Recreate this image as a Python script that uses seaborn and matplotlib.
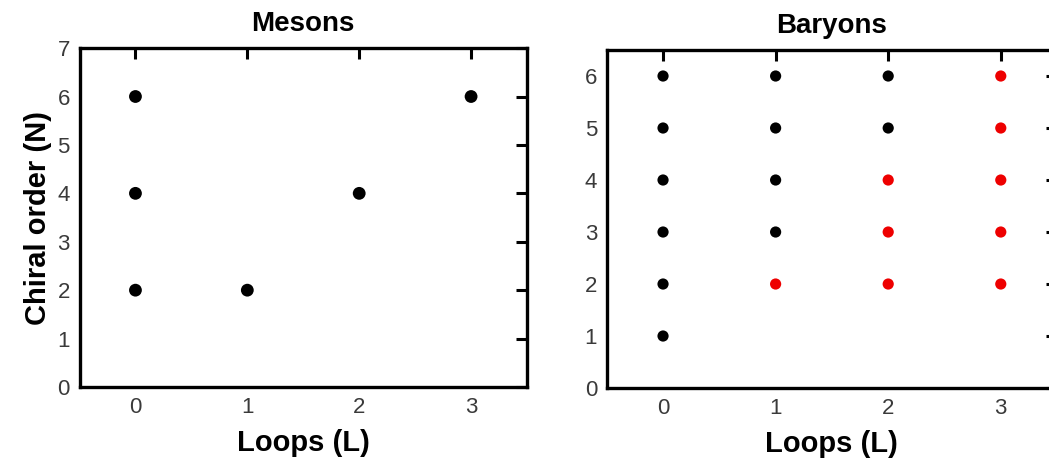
import matplotlib
matplotlib.use("Agg")
import matplotlib.pyplot as plt
import seaborn as sns
import pandas as pd

# Mesons: (loops, chiral order)
meson_L = [0, 0, 0, 1, 2, 3]
meson_N = [2, 4, 6, 2, 4, 6]

# Baryons, black and red points
baryon_black_L = [0, 0, 0, 0, 0, 0, 1, 1, 1, 1, 2, 2]
baryon_black_N = [1, 2, 3, 4, 5, 6, 3, 4, 5, 6, 5, 6]
baryon_red_L = [1, 2, 2, 2, 3, 3, 3, 3, 3]
baryon_red_N = [2, 2, 3, 4, 2, 3, 4, 5, 6]

sns.set_style("white")
plt.rcParams['font.family'] = ['Liberation Sans', 'DejaVu Sans']

mesons = pd.DataFrame({"L": meson_L, "N": meson_N})
baryons = pd.DataFrame({
    "L": baryon_black_L + baryon_red_L,
    "N": baryon_black_N + baryon_red_N,
    "kind": ["black"] * len(baryon_black_L) + ["red"] * len(baryon_red_L),
})

fig = plt.figure(figsize=(10.49, 4.58), dpi=100)
ax1 = fig.add_axes([0.0758, 0.155, 0.4266, 0.740])
ax2 = fig.add_axes([0.5784, 0.1528, 0.4293, 0.738])

sns.scatterplot(data=mesons, x="L", y="N", color="black", s=85,
                edgecolor="none", ax=ax1, legend=False)
sns.scatterplot(data=baryons, x="L", y="N", hue="kind",
                palette={"black": "black", "red": "#ee0000"}, s=65,
                edgecolor="none", ax=ax2, legend=False)

ax1.set_xlim(-0.5, 3.5)
ax1.set_ylim(0, 7)
ax1.set_yticks(range(0, 8))
ax2.set_xlim(-0.5, 3.5)
ax2.set_ylim(0, 6.5)
ax2.set_yticks(range(0, 7))

for ax, title in [(ax1, "Mesons"), (ax2, "Baryons")]:
    ax.set_xticks(range(0, 4))
    ax.set_title(title, fontsize=20, fontweight="bold", color="black", pad=12)
    ax.set_xlabel("Loops (L)", fontsize=21, fontweight="bold", color="black",
                  labelpad=8)
    ax.tick_params(direction="in", length=8, width=2.2, top=True, right=True,
                   labelsize=16, labelcolor="#3a3a3a", color="black", pad=7)
    for sp in ax.spines.values():
        sp.set_linewidth(2.4)
        sp.set_color("black")

ax1.set_ylabel("Chiral order (N)", fontsize=21, fontweight="bold",
               color="black", labelpad=4)
ax2.set_ylabel("")

fig.savefig("out.png", dpi=100)
